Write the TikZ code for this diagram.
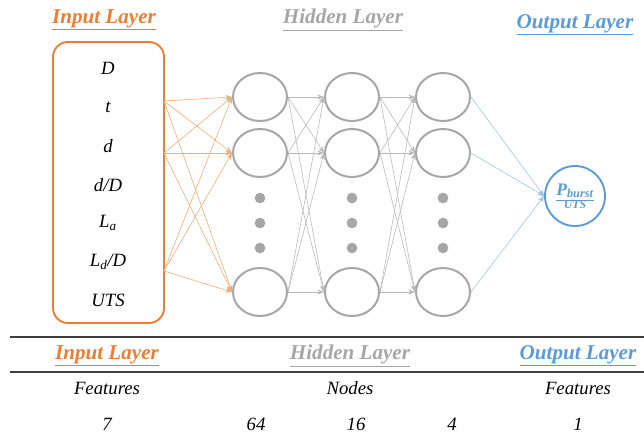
\documentclass[tikz,border=0pt]{standalone}
\usepackage{fontspec}
\setmainfont{Liberation Serif}
\definecolor{nnorange}{HTML}{ED7D31}
\definecolor{nngray}{HTML}{A6A6A6}
\definecolor{nnblue}{HTML}{5B9BD5}
\definecolor{nnrule}{HTML}{3F3F3F}
\usetikzlibrary{arrows.meta,shapes.geometric}

\begin{document}
\begin{tikzpicture}[x=0.03cm,y=-0.03cm,
  hd/.style={ellipse,draw=nngray,line width=1.7pt,minimum width=1.62cm,
    minimum height=1.44cm,inner sep=0pt},
  dt/.style={circle,fill=nngray,inner sep=0pt,minimum size=3.2mm},
  ttl/.style={font=\fontsize{18}{21}\selectfont\bfseries\itshape},
  txt/.style={font=\fontsize{16}{19}\selectfont\itshape},
  ei/.style={-{Stealth[length=2mm]},nnorange!65,line width=0.5pt},
  eh/.style={-{Stealth[length=2mm]},nngray!80,line width=0.5pt},
  eo/.style={-{Stealth[length=2mm]},nnblue!60,line width=0.5pt},
  rl/.style={nnrule,line width=1.6pt}]
\useasboundingbox (0,0) rectangle (644,442);
% layer titles
\node[ttl,nnorange] (tin) at (104,20) {\underline{Input Layer}};
\node[ttl,nngray] (thid) at (343,20) {\underline{Hidden Layer}};
\node[ttl,nnblue] (tout) at (575,25) {\underline{Output Layer}};
% input box with the seven features
\node[draw=nnorange,line width=1.6pt,rounded corners=0.45cm,minimum width=3.33cm,
  minimum height=8.43cm] (inbox) at (108.5,182.5) {};
\foreach \y/\t [count=\i] in {68/D,107/t,146/d,185/{d/D},223/{L\textsubscript{a}},
    262/{L\textsubscript{d}/D},300/UTS}
  \node[txt] (f\i) at (108,\y) {\t};
\coordinate (i1) at (164,101);
\coordinate (i2) at (164,153);
\coordinate (i3) at (164,271);
% hidden layers, three shown per column
\foreach \c/\x in {1/260,2/352,3/443}{
  \foreach \r/\y in {1/97,2/153,3/292}
    \node[hd] (h\c\r) at (\x,\y) {};
  \foreach \y in {198,223,248}
    \node[dt] (dot\c-\y) at (\x,\y) {};
}
% output node
\node[circle,draw=nnblue,line width=1.6pt,minimum size=1.8cm,inner sep=0pt,
  align=center,text=nnblue,font=\bfseries\itshape] (out) at (575,196)
  {\fontsize{15}{13}\selectfont\underline{P\textsubscript{burst}}\\[-1pt]
   \fontsize{10}{11}\selectfont UTS};
% connections
\foreach \a in {1,2,3}
  \foreach \b in {1,2,3}
    \draw[ei] (i\a) -- (h1\b.west);
\foreach \c/\n in {1/2,2/3}
  \foreach \a in {1,2,3}
    \foreach \b in {1,2,3}
      \draw[eh] (h\c\a.east) -- (h\n\b.west);
\foreach \a in {1,2,3}
  \draw[eo] (h3\a.east) -- (out.west);
% table below
\draw[rl] (10,337) -- (644,337);
\draw[rl] (10,372) -- (644,372);
\node[ttl,nnorange] (cin) at (107,356) {\underline{Input Layer}};
\node[ttl,nngray] (chid) at (350,356) {\underline{Hidden Layer}};
\node[ttl,nnblue] (cout) at (578,356) {\underline{Output Layer}};
\node[txt] (rin) at (107,388) {Features};
\node[txt] (rhid) at (350,388) {Nodes};
\node[txt] (rout) at (578,388) {Features};
\node[txt] (n1) at (107,424) {7};
\node[txt] (n2) at (256,424) {64};
\node[txt] (n3) at (356,424) {16};
\node[txt] (n4) at (452,424) {4};
\node[txt] (n5) at (578,424) {1};
\end{tikzpicture}
\end{document}
